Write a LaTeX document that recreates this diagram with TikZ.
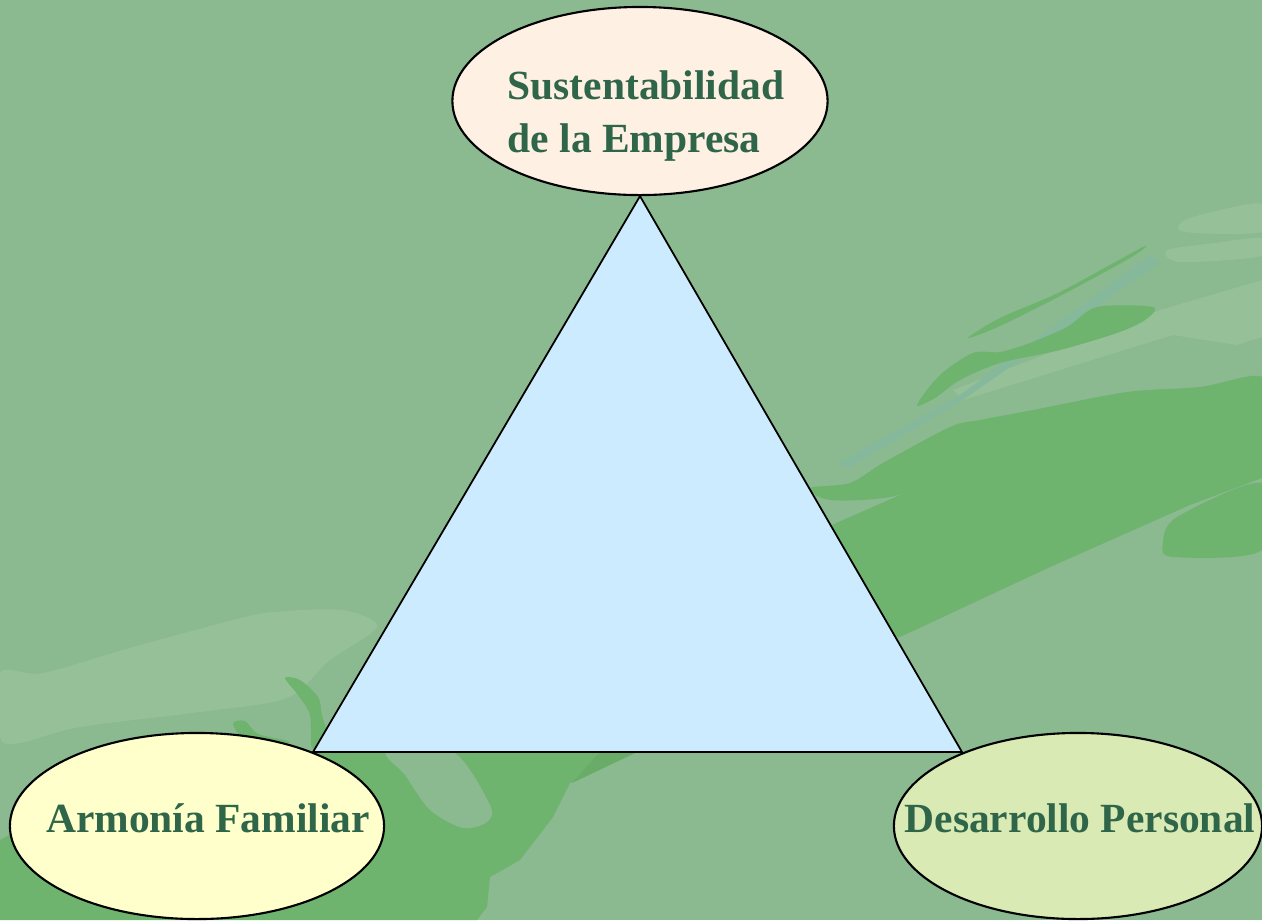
\documentclass[tikz,border=0pt]{standalone}
\usepackage{fontspec}
\setmainfont{Liberation Serif}
\usetikzlibrary{shapes.geometric}
\definecolor{fondo}{RGB}{139,185,144}
\definecolor{hoja}{RGB}{110,180,110}
\definecolor{hojaosc}{RGB}{104,172,104}
\definecolor{claro}{RGB}{150,192,152}
\definecolor{azulado}{RGB}{134,184,156}
\definecolor{texto}{RGB}{47,102,74}
\definecolor{durazno}{RGB}{255,240,228}
\definecolor{crema}{RGB}{255,255,204}
\definecolor{lima}{RGB}{217,234,180}
\definecolor{cielo}{RGB}{204,235,254}
\begin{document}
\begin{tikzpicture}[x=0.01cm,y=-0.01cm,
  elli/.style={ellipse,draw,line width=0.6pt,inner sep=0pt},
  lbl/.style={text=texto,font=\fontsize{11.8}{14.8}\selectfont\bfseries,inner sep=0pt}]
\fill[fondo] (0,0) rectangle (1262,920);
\useasboundingbox (0,0) rectangle (1262,920);
\fill[claro] plot[smooth cycle] coordinates {(1183,221) (1220,210) (1262,204) (1262,232) (1185,232)};
\fill[claro] plot[smooth cycle] coordinates {(1167,250) (1215,243) (1262,238) (1262,256) (1180,262)};
\fill[claro] (953,390) -- (1160,310) -- (1262,280) -- (1262,337) -- (1237,345) -- (1173,335) -- (963,400) -- cycle;
\fill[claro] plot[smooth cycle] coordinates {(0,673) (43,673) (133,647) (233,620) (273,612) (343,610) (377,627) (330,660) (287,698) (200,712) (80,727) (20,743) (0,737)};
\fill[azulado] (840,462) -- (960,395) -- (1150,255) -- (1160,262) -- (960,402) -- (845,470) -- cycle;
\fill[hoja] plot[smooth cycle] coordinates {(968,338) (1000,318) (1060,292) (1143,247) (1130,258) (1060,296) (1000,326)};
\fill[hoja] plot[smooth cycle] coordinates {(917,405) (940,375) (973,353) (1000,352) (1030,343) (1067,327) (1097,307) (1153,307) (1145,320) (1117,333) (1060,350) (1000,363) (960,380) (935,398)};
\fill[hoja] plot[smooth cycle] coordinates {(810,488) (850,483) (883,463) (950,427) (980,420) (1033,410) (1127,392) (1200,387) (1262,377) (1262,425) (1167,412) (1050,437) (950,477) (890,497) (830,500)};
\fill[hoja] (825,528) -- (950,473) -- (1050,432) -- (1167,407) -- (1262,420) -- (1262,478) -- (1190,505) -- (1050,567) -- (900,637) -- (860,640) -- cycle;
\fill[hoja] plot[smooth cycle] coordinates {(1163,543) (1177,517) (1262,483) (1262,550) (1173,557)};
\fill[hoja] plot[smooth cycle] coordinates {(233,724) (245,721) (258,734) (290,742) (250,745)};
\fill[hoja] plot[smooth cycle] coordinates {(285,678) (300,680) (318,697) (322,715) (328,740) (312,748) (310,715) (298,695)};
\fill[hoja] (0,840) -- (150,760) -- (320,752) -- (637,752) -- (570,783) -- (553,817) -- (520,860) -- (490,877) -- (487,907) -- (477,920) -- (0,920) -- cycle;
\fill[hojaosc] (600,752) -- (637,752) -- (572,783) -- cycle;
\fill[fondo] plot[smooth cycle] coordinates {(387,752) (453,752) (490,805) (487,822) (463,828) (430,810) (405,775)};
\node[elli,fill=durazno,minimum width=3.75cm,minimum height=1.88cm] (emp) at (640,101) {};
\coordinate (izq) at (313,752);
\coordinate (der) at (962,752);
\draw[line width=0.5pt,fill=cielo] (emp.south) -- (izq) -- (der) -- cycle;
\node[elli,fill=crema,minimum width=3.74cm,minimum height=1.86cm] (fam) at (197,826) {};
\node[elli,fill=lima,minimum width=3.68cm,minimum height=1.86cm] (des) at (1078,826) {};
\node[lbl,align=left] (empt) at (646,116) {Sustentabilidad\\de la Empresa};
\node[lbl] (famt) at (208,818) {Armonía Familiar};
\node[lbl] (dest) at (1080,818) {Desarrollo Personal};
\end{tikzpicture}
\end{document}
